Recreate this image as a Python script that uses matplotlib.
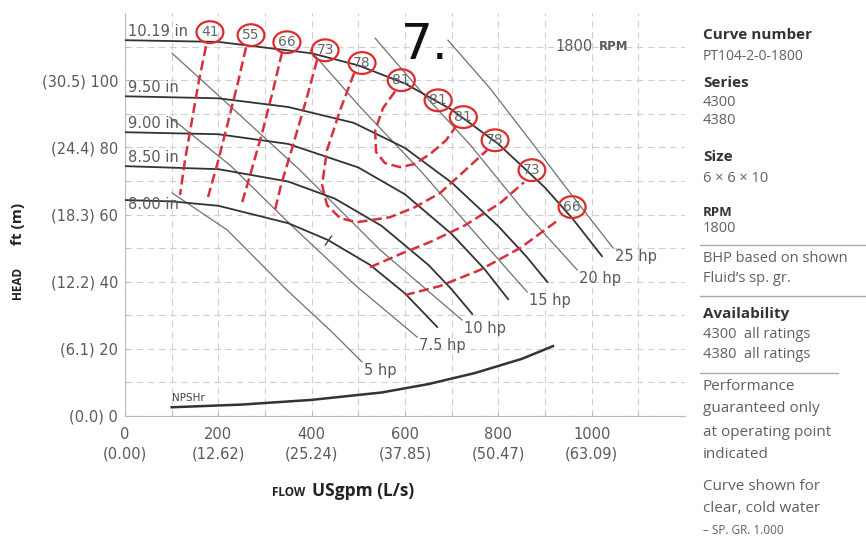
import matplotlib
matplotlib.use("Agg")
import matplotlib.pyplot as plt
from matplotlib.lines import Line2D
import numpy as np

# ---- data (flow in USgpm, head in ft) ----
impeller_names = ["10.19 in", "9.50 in", "9.00 in", "8.50 in", "8.00 in"]
imp_q = [
    [0, 200, 400, 500, 600, 700, 800, 900, 960, 1022],
    [0, 200, 350, 490, 600, 700, 800, 860, 905],
    [0, 200, 350, 500, 600, 700, 770, 821],
    [0, 200, 350, 450, 550, 650, 700, 744],
    [0, 100, 200, 350, 435, 525, 600, 669],
]
imp_h = [
    [111.9, 111.4, 108, 104.4, 99, 91.2, 81, 68, 58.6, 47.6],
    [95.2, 94.6, 92, 87.3, 79.8, 69.5, 56.5, 47.5, 39.9],
    [84.5, 83.9, 81, 74, 66, 54.2, 43.8, 34.8],
    [74.4, 73.5, 69.8, 64.7, 56.6, 45, 37.7, 30.4],
    [64.3, 63.9, 62.6, 57.4, 52.4, 45, 36.5, 26.5],
]

hp_names = ["25 hp", "20 hp", "15 hp", "10 hp", "7.5 hp", "5 hp"]
hp_q = [
    [692, 782, 868, 954, 1046],
    [536, 632, 740, 857, 969],
    [397, 504, 632, 750, 862],
    [101, 225, 375, 547, 722],
    [96, 225, 354, 493, 626],
    [101, 219, 347, 439, 508],
]
hp_h = [
    [111.9, 97.6, 82.1, 66.4, 50],
    [112.5, 97, 80.7, 60.7, 43.5],
    [108.9, 92, 73.2, 54.5, 36.9],
    [108, 92.3, 73.2, 49.4, 28.6],
    [89, 74.7, 57.1, 39, 23.5],
    [66.4, 55.4, 37.5, 25.6, 16.1],
]

# iso-efficiency lines (dashed red)
eff_q = [
    [173.6, 158.6, 143.6, 128.6, 117.9],
    [259.4, 242.2, 220.8, 197.2, 177.9],
    [336.5, 317.3, 293.7, 268, 248.7],
    [411.6, 388, 360.1, 334.4, 319.4],
    [491, 461, 433, 422.3, 433, 461, 497, 568, 621.7, 675.2, 724.5, 776],
    [578.8, 553, 536, 538, 557, 589.5, 619.5, 653.8, 688, 709.5],
    [525.2, 589.5, 653.8, 728.8, 804, 855],
    [600, 675, 761, 846.7, 928],
]
eff_h = [
    [110.1, 100, 88.1, 76.2, 65.8],
    [109.8, 99.4, 87.5, 74.7, 65.2],
    [108.3, 97, 84.2, 71.7, 62.5],
    [106, 94, 80.7, 68.8, 60.1],
    [102.1, 91.1, 79.2, 68.8, 62.8, 58.9, 57.7, 59.2, 62.2, 66.4, 72.6, 79.2],
    [96.7, 91.7, 85.1, 78.6, 75.3, 74.1, 75, 78, 82.1, 86.3],
    [44.3, 48.2, 51.8, 56.8, 63.4, 69.6],
    [36, 38.7, 43.5, 50, 58.3],
]

# efficiency marks on the 10.19 in curve
mark_vals = [41, 55, 66, 73, 78, 81, 81, 81, 78, 73, 66]
mark_q = [182, 270, 347, 429, 508, 592, 671, 725, 793, 872, 958]
mark_h = [114.3, 113.4, 111.3, 108.9, 105.1, 100, 94, 89, 82.1, 73.2, 62.2]

npsh_q = [100, 250, 400, 550, 650, 750, 850, 917]
npsh_h = [2.6, 3.4, 4.8, 7, 9.5, 12.8, 17, 20.8]
op_point = (435, 52.4)

flow_ticks = [0, 200, 400, 600, 800, 1000]
flow_ls = ["(0.00)", "(12.62)", "(25.24)", "(37.85)", "(50.47)", "(63.09)"]
head_ticks = [0, 20, 40, 60, 80, 100]
head_m = ["(0.0)", "(6.1)", "(12.2)", "(18.3)", "(24.4)", "(30.5)"]

# ---- figure ----
W, H = 866, 537
fig = plt.figure(figsize=(W / 100, H / 100), dpi=100)
ax = fig.add_axes([125 / W, 1 - 416 / H, 560 / W, 403 / H])
ax.set_xlim(0, 1200)
ax.set_ylim(0, 120)

grey = "#5a5a5a"
red_line = "#d6303c"
red_ring = "#dd2c2c"

ax.set_xticks(flow_ticks)
ax.set_xticklabels([f"{q}\n{l}" for q, l in zip(flow_ticks, flow_ls)],
                   fontsize=10.5, color=grey, linespacing=1.35)
ax.set_xticks(np.arange(100, 1200, 200), minor=True)
ax.set_yticks(head_ticks)
ax.set_yticklabels([f"{m} {h}" for h, m in zip(head_ticks, head_m)],
                   fontsize=10.5, color=grey)
ax.set_yticks(np.arange(10, 120, 20), minor=True)
ax.tick_params(which="both", direction="in", length=3, color="#bbbbbb")
ax.tick_params(axis="x", pad=8)
ax.tick_params(axis="y", pad=5)
ax.grid(which="both", color="#d0d0d0", linestyle=(0, (6, 4)), linewidth=0.8)
ax.set_axisbelow(True)
for s in ["top", "right"]:
    ax.spines[s].set_visible(False)
for s in ["left", "bottom"]:
    ax.spines[s].set_color("#bbbbbb")

# head curves
label_dy = [6.5, 6.5, 6.5, 6.5, -3]
for name, q, h, dy in zip(impeller_names, imp_q, imp_h, label_dy):
    ax.plot(q, h, color="#333333", lw=1.3, zorder=3)
    ax.annotate(name, xy=(0, h[0]), xytext=(2.5, dy), textcoords="offset points",
                ha="left", va="center", fontsize=10.5, color=grey)

# horsepower lines
for name, q, h in zip(hp_names, hp_q, hp_h):
    ax.plot(q, h, color="#707070", lw=0.9, zorder=2)
    ax.annotate(name, xy=(q[-1], h[-1]), xytext=(1.5, -6),
                textcoords="offset points", ha="left", va="center",
                fontsize=10.5, color=grey)

# efficiency lines
for q, h in zip(eff_q, eff_h):
    ax.plot(q, h, color=red_line, lw=1.8, dashes=(4, 1.8), zorder=4)

for v, q, h in zip(mark_vals, mark_q, mark_h):
    ax.text(q, h, str(v), ha="center", va="center", fontsize=10, color="#666666",
            zorder=5,
            bbox=dict(boxstyle="ellipse,pad=0.05", fc="none", ec=red_ring, lw=1.6))

# NPSHr
ax.plot(npsh_q, npsh_h, color="#333333", lw=1.8, zorder=3)
ax.annotate("NPSHr", xy=(npsh_q[0], npsh_h[0]), xytext=(0, 3),
            textcoords="offset points", ha="left", va="bottom",
            fontsize=7.5, color="#444444")

ax.plot(*op_point, marker=(2, 0, -35), markersize=9, color="#444444",
        mew=1.0, zorder=4)

ax.text(643, 110.4, "7.", fontsize=36, color="#111111", ha="center", va="center")
ax.text(922, 110.1, "1800", fontsize=10.5, color=grey, ha="left", va="center")
ax.text(1015, 109.9, "RPM", fontsize=8.5, color=grey, ha="left", va="center",
        fontweight="bold")

# axis titles
fig.text(18 / W, 1 - 283 / H, "HEAD", rotation=90, ha="center", va="center",
         fontsize=8.5, fontweight="bold", color="#222222", family="Open Sans")
fig.text(18 / W, 1 - 224 / H, "ft (m)", rotation=90, ha="center", va="center",
         fontsize=11, fontweight="bold", color="#222222", family="Open Sans")
fig.text(289 / W, 1 - 492 / H, "FLOW", ha="center", va="center",
         fontsize=8.5, fontweight="bold", color="#222222", family="Open Sans")
fig.text(312 / W, 1 - 491 / H, "USgpm (L/s)", ha="left", va="center",
         fontsize=12.5, fontweight="bold", color="#222222", family="Open Sans")

# side panel
body = "#606060"
panel = [
    ("Curve number", 35, 11, "bold", "#333333"),
    ("PT104-2-0-1800", 56, 10, "normal", body),
    ("Series", 83, 11, "bold", "#333333"),
    ("4300", 103, 10.5, "normal", body),
    ("4380", 121, 10.5, "normal", body),
    ("Size", 157, 11, "bold", "#333333"),
    ("6 \u00d7 6 \u00d7 10", 178, 10.5, "normal", body),
    ("RPM", 212, 9.5, "bold", "#333333"),
    ("1800", 229, 10.5, "normal", body),
    ("BHP based on shown", 259, 10.5, "normal", body),
    ("Fluid\u2019s sp. gr.", 279, 10.5, "normal", body),
    ("Availability", 314, 11, "bold", "#333333"),
    ("4300  all ratings", 335, 10.5, "normal", body),
    ("4380  all ratings", 355, 10.5, "normal", body),
    ("Performance", 387, 11, "normal", body),
    ("guaranteed only", 409, 11, "normal", body),
    ("at operating point", 432, 11, "normal", body),
    ("indicated", 455, 11, "normal", body),
    ("Curve shown for", 487, 11, "normal", body),
    ("clear, cold water", 509, 11, "normal", body),
    ("\u2013 SP. GR. 1.000", 530, 8.5, "normal", body),
]
for txt, y, fs, fw, c in panel:
    fig.text(703 / W, 1 - y / H, txt, ha="left", va="center", fontsize=fs,
             fontweight=fw, color=c, family="Open Sans")

for y, x1 in [(245, 866), (296, 866), (373, 838)]:
    fig.add_artist(Line2D([700 / W, x1 / W], [1 - y / H, 1 - y / H],
                          color="#aaaaaa", lw=1))

fig.savefig("out.png", dpi=100)
